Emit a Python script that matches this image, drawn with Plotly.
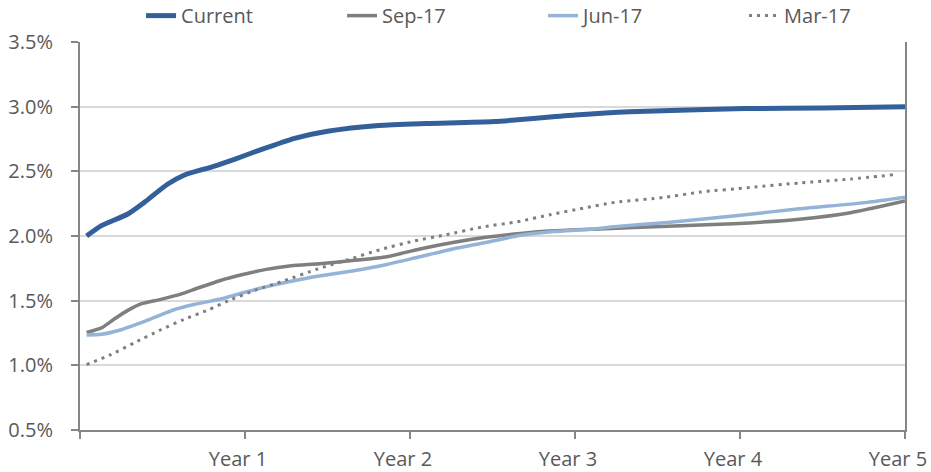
import plotly.graph_objects as go

# Yield curves, horizon in years, rates in percent
current_x = [0.04, 0.13, 0.29, 0.39, 0.53, 0.63, 0.80, 0.94, 1.08, 1.30, 1.50, 1.81, 2.10, 2.51, 3.00, 3.33, 4.03, 4.50, 5.00]
current_y = [2.00, 2.08, 2.17, 2.26, 2.40, 2.47, 2.535, 2.595, 2.66, 2.755, 2.81, 2.855, 2.87, 2.885, 2.935, 2.96, 2.985, 2.99, 3.00]

sep17_x = [0.04, 0.13, 0.21, 0.29, 0.37, 0.49, 0.61, 0.72, 0.86, 0.98, 1.12, 1.28, 1.45, 1.65, 1.86, 2.06, 2.26, 2.46, 2.67, 2.87, 3.15, 3.56, 3.96, 4.36, 4.67, 5.00]
sep17_y = [1.255, 1.29, 1.36, 1.425, 1.475, 1.51, 1.55, 1.60, 1.66, 1.70, 1.74, 1.77, 1.785, 1.81, 1.84, 1.90, 1.95, 1.99, 2.02, 2.04, 2.055, 2.075, 2.095, 2.13, 2.18, 2.27]

jun17_x = [0.04, 0.13, 0.25, 0.35, 0.45, 0.57, 0.69, 0.86, 1.00, 1.12, 1.28, 1.45, 1.65, 1.86, 2.06, 2.26, 2.46, 2.67, 2.87, 3.07, 3.27, 3.56, 3.96, 4.36, 4.77, 5.00]
jun17_y = [1.235, 1.24, 1.275, 1.32, 1.37, 1.43, 1.47, 1.515, 1.565, 1.605, 1.65, 1.69, 1.73, 1.78, 1.84, 1.90, 1.95, 2.005, 2.035, 2.05, 2.075, 2.105, 2.155, 2.21, 2.26, 2.30]

mar17_x = [0.04, 0.19, 0.33, 0.49, 0.63, 0.78, 0.90, 1.06, 1.24, 1.44, 1.62, 1.82, 2.02, 2.22, 2.44, 2.65, 2.85, 3.05, 3.24, 3.55, 3.76, 4.06, 4.36, 4.67, 4.94]
mar17_y = [1.005, 1.085, 1.175, 1.275, 1.355, 1.43, 1.50, 1.58, 1.655, 1.745, 1.815, 1.895, 1.96, 2.01, 2.07, 2.11, 2.165, 2.215, 2.26, 2.30, 2.34, 2.375, 2.41, 2.44, 2.475]

x_tick_vals = [0, 1, 2, 3, 4, 5]
x_tick_text = ["", "Year 1", "Year 2", "Year 3", "Year 4", "Year 5"]
y_tick_vals = [0.5, 1.0, 1.5, 2.0, 2.5, 3.0, 3.5]
y_tick_text = ["0.5%", "1.0%", "1.5%", "2.0%", "2.5%", "3.0%", "3.5%"]

FONT = "Open Sans"
AXIS = "#868686"
TEXT = "#595959"

fig = go.Figure()
fig.add_trace(go.Scatter(x=current_x, y=current_y, name="Current", mode="lines",
                         line=dict(color="#33609a", width=5, shape="spline", smoothing=0.6)))
fig.add_trace(go.Scatter(x=sep17_x, y=sep17_y, name="Sep-17", mode="lines",
                         line=dict(color="#7f7f7f", width=3.5, shape="spline", smoothing=0.6)))
fig.add_trace(go.Scatter(x=jun17_x, y=jun17_y, name="Jun-17", mode="lines",
                         line=dict(color="#95b3d7", width=3.5, shape="spline", smoothing=0.6)))
fig.add_trace(go.Scatter(x=mar17_x, y=mar17_y, name="Mar-17", mode="lines",
                         line=dict(color="#7f7f7f", width=3, dash="3px,5px", shape="spline", smoothing=0.6)))

fig.update_layout(
    width=931, height=472,
    margin=dict(l=80, r=26, t=42, b=42, autoexpand=False),
    paper_bgcolor="white", plot_bgcolor="white",
    font=dict(family=FONT, color=TEXT, size=20),
    showlegend=True,
    legend=dict(orientation="h", x=0.074, y=1.068, xanchor="left", yanchor="middle",
                font=dict(size=20, color=TEXT), entrywidth=156, entrywidthmode="pixels",
                bgcolor="rgba(0,0,0,0)", borderwidth=0, tracegroupgap=0),
    xaxis=dict(range=[0, 5], tickmode="array", tickvals=x_tick_vals, ticktext=x_tick_text,
               automargin=False,
               showgrid=False, zeroline=False, showline=True, linecolor=AXIS, linewidth=2,
               ticks="outside", ticklen=7, tickwidth=1.5, tickcolor=AXIS,
               ticklabelstandoff=3, ticklabelshift=-7, ticklabeloverflow="allow",
               tickfont=dict(size=20, color=TEXT)),
    yaxis=dict(range=[0.5, 3.5], tickmode="array", tickvals=y_tick_vals, ticktext=y_tick_text,
               automargin=False,
               showgrid=True, gridcolor="#d9d9d9", gridwidth=1.5, zeroline=False,
               showline=True, linecolor=AXIS, linewidth=2, mirror=True,
               ticks="outside", ticklen=7, tickwidth=1.5, tickcolor=AXIS,
               ticklabelstandoff=14, tickfont=dict(size=20, color=TEXT)),
)

fig.write_html("out.html")
